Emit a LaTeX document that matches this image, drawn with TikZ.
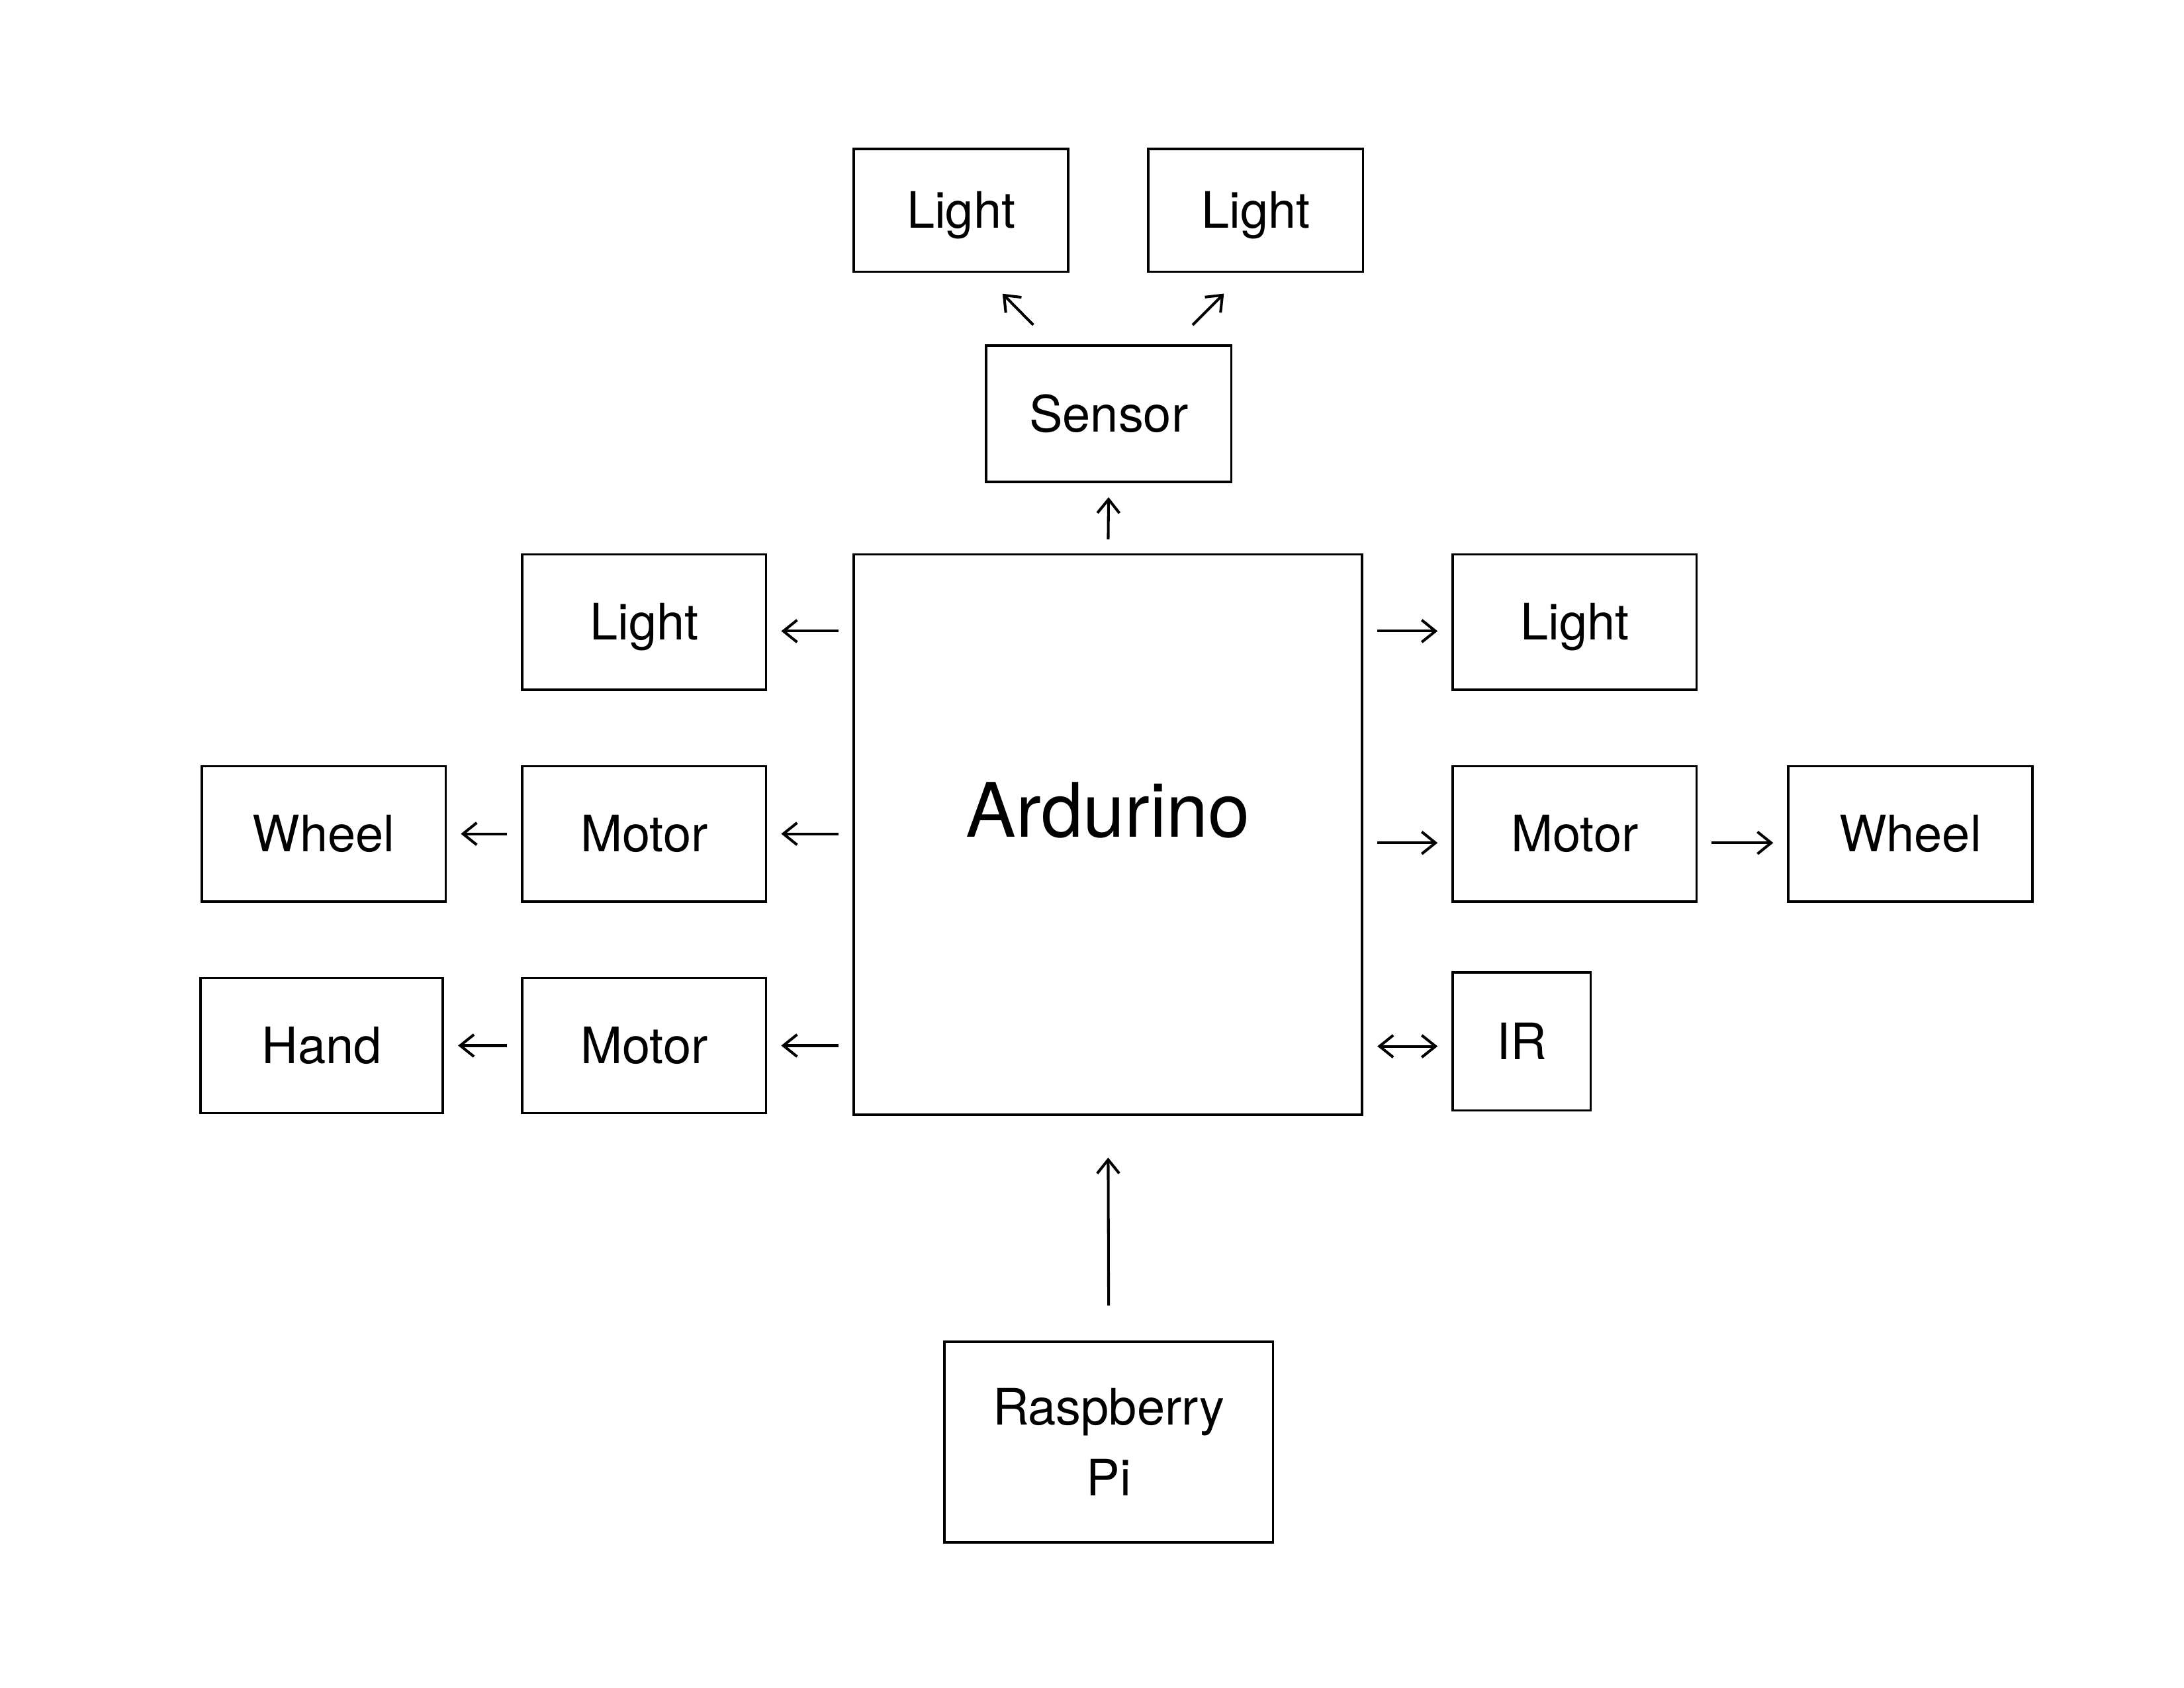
\documentclass[tikz,border=0pt]{standalone}
\usepackage{fontspec}
\setmainfont{TeX Gyre Heros}
\usetikzlibrary{calc,arrows.meta}

\begin{document}
\begin{tikzpicture}[
        >={Straight Barb[length=5.6pt,width=9pt]},
        frame/.style={draw, line width=1pt, inner sep=0pt, minimum width=3.5cm, minimum height=1.94cm,
            font=\fontsize{20.5}{28.8}\selectfont},
        box/.style={frame, text height=14.7pt, text depth=0pt},
        arr/.style={->, line width=1.1pt, shorten <=0.2cm, shorten >=0.2cm}
    ]
        \useasboundingbox (0,0) rectangle (31.36,-24.23);

        % Main board
        \node[box, minimum width=7.3cm, minimum height=8.04cm,
            label={[font=\fontsize{30.7}{36}\selectfont, yshift=0.35cm]center:Ardurino}] (ard) at (15.91,-11.98) {};

        % Top
        \node[box, minimum width=3.52cm, minimum height=1.96cm] (sensor) at (15.92,-5.94) {Sensor};
        \node[box, minimum width=3.08cm, minimum height=1.76cm] (lightA) at (13.8,-3.02) {Light};
        \node[box, minimum width=3.08cm, minimum height=1.76cm] (lightB) at (18.03,-3.02) {Light};

        % Left side
        \node[box] (lightL) at (9.25,-8.93) {Light};
        \node[box] (motorL) at (9.25,-11.97) {Motor};
        \node[box] (wheelL) at (4.65,-11.97) {Wheel};
        \node[box] (motorH) at (9.25,-15.01) {Motor};
        \node[box, minimum width=3.48cm] (hand) at (4.62,-15.01) {Hand};

        % Right side
        \node[box] (lightR) at (22.61,-8.93) {Light};
        \node[box] (motorR) at (22.61,-11.97) {Motor};
        \node[box] (wheelR) at (27.43,-11.97) {Wheel};
        \node[box, minimum width=1.98cm, minimum height=1.98cm] (ir) at (21.85,-14.95) {IR};

        % Bottom
        \node[frame, minimum width=4.72cm, minimum height=2.88cm, align=center] (rpi) at (15.92,-20.7) {Raspberry\\Pi};

        % Arrows up
        \draw[arr] (ard.north) -- (sensor.south);
        \draw[arr, shorten <=0.5cm, shorten >=0.6cm] (rpi.north) -- (ard.south);
        \draw[arr, shorten <=0.39cm, shorten >=0.42cm] ($(sensor.north)+(-0.81,0)$) -- ($(lightA.south)+(0.3,0)$);
        \draw[arr, shorten <=0.39cm, shorten >=0.42cm] ($(sensor.north)+(0.93,0)$) -- ($(lightB.south)+(-0.16,0)$);

        % Arrows left
        \draw[arr] ($(ard.west |- lightL)+(0,-0.13)$) -- ($(lightL.east)+(0,-0.13)$);
        \draw[arr] (ard.west |- motorL) -- (motorL.east);
        \draw[arr] (ard.west |- motorH) -- (motorH.east);
        \draw[arr] (motorL.west) -- (wheelL.east);
        \draw[arr] (motorH.west) -- (hand.east);

        % Arrows right
        \draw[arr] ($(ard.east |- lightR)+(0,-0.13)$) -- ($(lightR.west)+(0,-0.13)$);
        \draw[arr] ($(ard.east |- motorR)+(0,-0.13)$) -- ($(motorR.west)+(0,-0.13)$);
        \draw[arr] ($(motorR.east)+(0,-0.13)$) -- ($(wheelR.west)+(0,-0.13)$);
        \draw[arr, <->] ($(ard.east |- ir)+(0,-0.07)$) -- ($(ir.west)+(0,-0.07)$);
    \end{tikzpicture}
\end{document}
